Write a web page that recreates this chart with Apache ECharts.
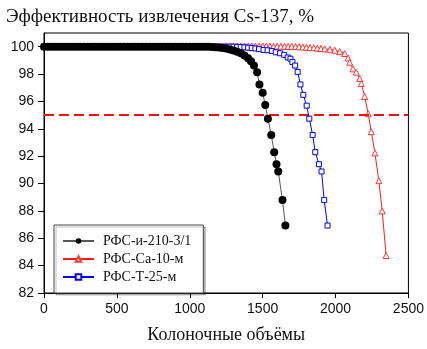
<!DOCTYPE html>
<html>
<head>
<meta charset="utf-8">
<script src="https://cdn.jsdelivr.net/npm/echarts@6/dist/echarts.min.js"></script>
<style>
  html, body { margin: 0; padding: 0; background: #ffffff; }
  #chart { width: 427px; height: 349px; }
</style>
</head>
<body>
<div id="chart"></div>
<script>
// Column volumes (bed volumes) and Cs-137 removal efficiency, %, for three sorbents
const seriesNames = ['РФС-и-210-3/1', 'РФС-Са-10-м', 'РФС-Т-25-м'];

const bvI210 = [0,25,50,75,100,125,150,175,200,225,250,275,300,325,350,375,400,425,450,475,
  500,525,550,575,600,625,650,675,700,725,750,775,800,825,850,875,900,925,950,975,
  1000,1025,1050,1075,1100,1125,1150,1175,1200,1225,1250,1275,1300,1325,1350,1375,
  1400,1420,1440,1462,1478,1500,1518,1536,1559,1579,1595,1607,1636,1656];
const effI210 = [100,100,100,100,100,100,100,100,100,100,100,100,100,100,100,100,100,100,100,100,
  100,100,100,100,100,100,100,100,100,100,100,100,100,100,100,100,100,100,100,100,
  100,100,100,100,100,99.99,99.98,99.96,99.94,99.9,99.86,99.8,99.73,99.63,99.52,99.36,
  99.15,98.93,98.62,98.14,97.24,96.64,95.74,94.74,93.55,92.29,91.41,90.88,88.79,86.93];

const bvCa10 = [0,25,50,75,100,125,150,175,200,225,250,275,300,325,350,375,400,425,450,475,
  500,525,550,575,600,625,650,675,700,725,750,775,800,825,850,875,900,925,950,975,
  1000,1025,1050,1075,1100,1125,1150,1175,1200,1225,1250,1275,1300,1325,1350,1375,
  1400,1425,1450,1475,1500,1525,1550,1575,1600,1625,1650,1675,1700,1725,1750,1775,
  1800,1825,1850,1875,1900,1925,1961,1995,2029,2063,2086,2097,2120,2142,2166,2177,
  2200,2224,2245,2270,2297,2320,2347];
const effCa10 = [100.05,100.05,100.05,100.05,100.05,100.05,100.05,100.05,100.05,100.05,
  100.05,100.05,100.05,100.05,100.05,100.05,100.05,100.05,100.05,100.05,
  100.05,100.05,100.05,100.05,100.05,100.05,100.05,100.05,100.05,100.05,
  100.05,100.05,100.05,100.05,100.05,100.05,100.05,100.05,100.05,100.05,
  100.05,100.05,100.05,100.05,100.05,100.05,100.05,100.05,100.05,100.05,
  100.05,100.05,100.05,100.05,100.05,100.05,100.05,100.05,100.05,100.05,
  100.05,100.05,100.05,100.04,100.04,100.03,100.03,100.02,100.02,100.01,
  100.0,99.98,99.96,99.94,99.92,99.9,99.87,99.84,99.81,99.74,99.64,99.5,
  99.17,98.86,98.38,98.14,97.67,97.31,96.36,95.1,93.79,92.24,90.21,88.0,84.74];

const bvT25 = [0,25,50,75,100,125,150,175,200,225,250,275,300,325,350,375,400,425,450,475,
  500,525,550,575,600,625,650,675,700,725,750,775,800,825,850,875,900,925,950,975,
  1000,1025,1050,1075,1100,1125,1150,1175,1200,1225,1250,1275,1300,1325,1350,1375,
  1400,1425,1450,1475,1506,1534,1563,1590,1620,1648,1672,1691,1704,1723,1740,1759,
  1779,1802,1820,1843,1861,1886,1904,1922,1945];
const effT25 = [100,100,100,100,100,100,100,100,100,100,100,100,100,100,100,100,100,100,100,100,
  100,100,100,100,100,100,100,100,100,100,100,100,100,100,100,100,100,100,100,100,
  100,100,100,100,100,100,100,100,100,100,100,100,100,99.99,99.97,99.95,
  99.93,99.9,99.87,99.82,99.76,99.74,99.69,99.59,99.52,99.4,99.21,99.12,98.88,98.62,98.16,97.24,
  96.48,95.69,94.74,93.55,92.29,91.41,90.88,88.79,86.93];

// 95 % efficiency level
const thresholdBv = [0, 2500];
const thresholdEff = [95, 95];

const yTicks = [82, 84, 86, 88, 90, 92, 94, 96, 98, 100];

const zip = (xs, ys) => xs.map((x, i) => [x, ys[i]]);
const plain = v => String(v);

const chart = echarts.init(document.getElementById('chart'), null, { renderer: 'canvas' });

chart.setOption({
  animation: false,
  backgroundColor: '#ffffff',
  title: {
    text: 'Эффективность извлечения Cs-137, %',
    left: 6,
    top: 8,
    padding: 0,
    textStyle: {
      fontFamily: 'Liberation Serif',
      fontSize: 19,
      fontWeight: 'normal',
      color: '#111'
    }
  },
  grid: {
    left: 44,
    right: 16,
    top: 33,
    bottom: 50,
    show: true,
    borderColor: '#000',
    borderWidth: 1,
    backgroundColor: 'transparent'
  },
  legend: {
    data: seriesNames,
    orient: 'vertical',
    left: 54,
    top: 225,
    padding: [9, 12, 9, 8],
    itemGap: 4,
    itemWidth: 31,
    itemHeight: 7,
    backgroundColor: '#ffffff',
    borderColor: '#444',
    borderWidth: 1,
    shadowColor: 'rgba(0,0,0,0.25)',
    shadowBlur: 0,
    shadowOffsetX: 2,
    shadowOffsetY: 2,
    textStyle: {
      fontFamily: 'Liberation Serif',
      fontSize: 14,
      color: '#111',
      padding: [0, 0, 0, 4]
    }
  },
  xAxis: {
    type: 'value',
    min: 0,
    max: 2500,
    interval: 500,
    name: 'Колоночные объёмы',
    nameLocation: 'middle',
    nameGap: 33,
    nameTextStyle: {
      fontFamily: 'Liberation Serif',
      fontSize: 18,
      color: '#111'
    },
    axisLine: { onZero: false, lineStyle: { color: '#000', width: 1 } },
    axisTick: { show: true, inside: false, length: 5, lineStyle: { color: '#000' } },
    axisLabel: {
      margin: 9,
      formatter: plain,
      fontFamily: 'Liberation Sans',
      fontSize: 14,
      color: '#111'
    },
    splitLine: { show: false }
  },
  yAxis: {
    type: 'value',
    min: 82,
    max: 101,
    interval: 2,
    axisLine: { show: true, onZero: false, lineStyle: { color: '#000', width: 1 } },
    axisTick: {
      show: true, inside: false, length: 6,
      customValues: yTicks,
      lineStyle: { color: '#000' }
    },
    axisLabel: {
      margin: 10,
      customValues: yTicks,
      formatter: plain,
      fontFamily: 'Liberation Sans',
      fontSize: 14,
      color: '#111'
    },
    splitLine: { show: false }
  },
  series: [
    {
      name: seriesNames[0],
      type: 'line',
      z: 6,
      data: zip(bvI210, effI210),
      symbol: 'circle',
      symbolSize: 8,
      showAllSymbol: true,
      lineStyle: { color: '#555', width: 1 },
      itemStyle: { color: '#000', borderColor: '#000', borderWidth: 0 }
    },
    {
      name: seriesNames[1],
      type: 'line',
      z: 3,
      data: zip(bvCa10, effCa10),
      symbol: 'triangle',
      symbolSize: 6,
      showAllSymbol: true,
      lineStyle: { color: '#ff1a1a', width: 1 },
      itemStyle: { color: '#ffffff', borderColor: '#ff3838', borderWidth: 1 }
    },
    {
      name: seriesNames[2],
      type: 'line',
      z: 5,
      data: zip(bvT25, effT25),
      symbol: 'rect',
      symbolSize: 5,
      showAllSymbol: true,
      lineStyle: { color: '#0000ff', width: 1 },
      itemStyle: { color: '#ffffff', borderColor: '#0000ff', borderWidth: 1 }
    },
    {
      name: 'threshold',
      type: 'line',
      z: 4,
      data: zip(thresholdBv, thresholdEff),
      symbol: 'none',
      silent: true,
      lineStyle: { color: '#ee1111', width: 2, type: [10, 5] }
    }
  ]
});
</script>
</body>
</html>
